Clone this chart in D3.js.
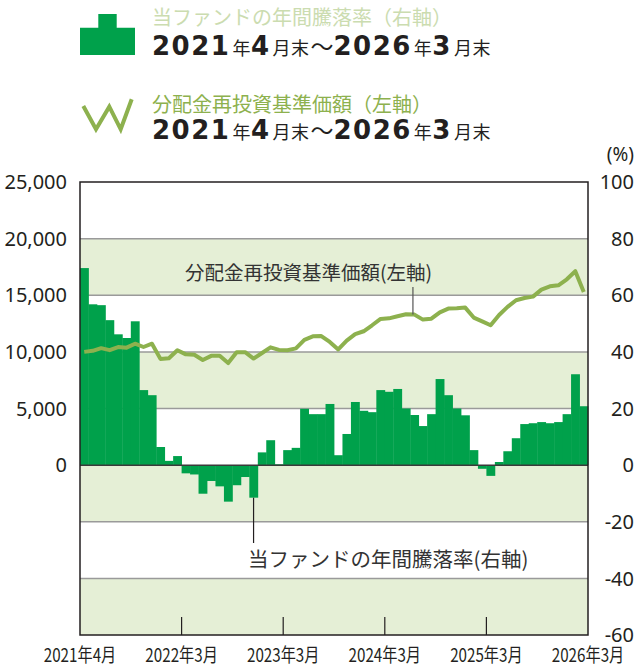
<!DOCTYPE html>
<html>
<head>
<meta charset="utf-8">
<script src="https://cdn.jsdelivr.net/npm/d3@7"></script>
<style>
  body { margin: 0; background: #fff; }
  svg { display: block; }
  text { font-family: "Noto Sans", "Noto Sans CJK JP", sans-serif; fill: #231f20; }
  .jp { font-family: "Noto Sans CJK JP", sans-serif; }
</style>
</head>
<body>
<div id="plot"></div>
<script>
// 年間騰落率 (%), monthly, 2021年4月末 .. 2026年3月末
const fundReturn = [
  69.6, 56.8, 56.5, 51.2, 46.2, 44.9, 50.8, 26.5, 24.7, 6.4, 1.5, 3.2,
  -2.9, -3.3, -10.1, -5.6, -7.5, -12.9, -7.1, -4.2, -11.5, 4.5, 8.8, 0.3,
  5.3, 6.1, 19.9, 18.0, 18.0, 21.6, 3.5, 11.0, 22.3, 19.2, 18.7, 26.5,
  25.9, 26.9, 20.0, 17.7, 13.8, 18.0, 30.4, 24.7, 20.0, 17.6, 5.3, -1.3,
  -3.8, 1.1, 4.9, 9.5, 14.5, 14.8, 15.2, 14.8, 15.2, 18.0, 32.1, 20.8
]
// 分配金再投資基準価額 (円)
const navReinvested = [
  10000, 10090, 10330, 10150, 10420, 10370, 10720, 10430, 10720, 9380, 9440, 10150,
  9780, 9740, 9280, 9650, 9650, 9010, 9970, 9970, 9410, 9900, 10400, 10170,
  10150, 10310, 11060, 11370, 11400, 10880, 10220, 10990, 11560, 11820, 12350, 12910,
  12960, 13150, 13320, 13290, 12850, 12930, 13490, 13820, 13850, 13910, 13030, 12700,
  12350, 13260, 13970, 14560, 14760, 14880, 15500, 15790, 15880, 16410, 17120, 15290
]
const months = d3.timeMonth.range(new Date(2021, 3, 1), new Date(2026, 3, 1))
const xTickLabels = ["2021年4月", "2022年3月", "2023年3月", "2024年3月", "2025年3月", "2026年3月"]
const xTickIndex = [0, 12, 24, 36, 48, 60]   // month boundaries
const rightTicks = [100, 80, 60, 40, 20, 0, -20, -40, -60]
const leftTicks = [0, 5000, 10000, 15000, 20000, 25000]

const W = 636, H = 667,
      plot = {left: 80, right: 588, top: 182, bottom: 635},
      barColor = "#00a14b",
      lineColor = "#8db14e",
      bandColor = "#e5efd6",
      dark = "#231f20"

const x = d3.scaleBand()
  .domain(months.map((d, i) => i))
  .range([plot.left, plot.right])
  .padding(0)
const bw = x.bandwidth()
const xEdge = i => plot.left + i * bw

const yR = d3.scaleLinear().domain([-60, 100]).range([plot.bottom, plot.top])
const yL = d3.scaleLinear().domain([-15000, 25000]).range([plot.bottom, plot.top])

const svg = d3.select("#plot").append("svg")
  .attr("width", W)
  .attr("height", H)

// ---- legend ----
const leg = svg.append("g")
leg.append("path")
  .attr("d", "M80,55V27.7H98.3V14H116.7V27.7H135V55Z")
  .attr("fill", barColor)
leg.append("polyline")
  .attr("points", "83.3,106 96,129.3 109.3,106.7 120.7,129.3 131.7,99.3")
  .attr("fill", "none")
  .attr("stroke", lineColor)
  .attr("stroke-width", 4)

leg.append("text").attr("class", "jp")
  .attr("x", 152).attr("y", 25)
  .style("font-size", "20px").style("fill", "#cbdcb0")
  .text("当ファンドの年間騰落率（右軸）")
leg.append("text").attr("class", "jp")
  .attr("x", 152).attr("y", 112)
  .style("font-size", "20px").style("fill", lineColor)
  .text("分配金再投資基準価額（左軸）")

const period = [["2021", 1], ["年", 0], ["4", 1], ["月末", 0], ["～", 2], ["2026", 1], ["年", 0], ["3", 1], ["月末", 0]]
const drawPeriod = (y) => {
  const t = leg.append("text").attr("x", 152).attr("y", y)
  period.forEach(([s, kind]) => {
    const ts = t.append("tspan").text(s)
    if (kind === 1) {
      ts.style("font-family", "'DejaVu Sans', sans-serif")
        .style("font-weight", "bold").style("font-size", "26px")
        .style("letter-spacing", "1.5px")
    } else if (kind === 0) {
      ts.style("font-family", "'Noto Sans CJK JP', sans-serif")
        .style("font-size", "18px").attr("dx", 2)
        .style("letter-spacing", "0.5px")
    } else {
      ts.style("font-family", "'Noto Sans CJK JP', sans-serif")
        .style("font-size", "23px").attr("dx", 1)
    }
  })
}
drawPeriod(55)
drawPeriod(139)

// ---- background bands ----
const bands = [80, 40, 0, -40]   // top of each shaded band
svg.append("g").selectAll("rect")
  .data(bands)
  .join("rect")
  .attr("x", plot.left)
  .attr("width", plot.right - plot.left)
  .attr("y", d => yR(d))
  .attr("height", d => yR(d - 20) - yR(d))
  .attr("fill", bandColor)

// grid lines
svg.append("g").selectAll("line")
  .data(rightTicks.filter(d => d !== 0 && d !== 100 && d !== -60))
  .join("line")
  .attr("x1", plot.left).attr("x2", plot.right)
  .attr("y1", d => yR(d)).attr("y2", d => yR(d))
  .attr("stroke", "#9a9a9a")
  .attr("stroke-width", 1.5)

// ---- bars ----
svg.append("g").selectAll("rect")
  .data(fundReturn)
  .join("rect")
  .attr("x", (d, i) => x(i))
  .attr("width", bw + 0.4)
  .attr("y", d => yR(Math.max(0, d)))
  .attr("height", d => Math.abs(yR(d) - yR(0)))
  .attr("fill", barColor)

// zero line
svg.append("line")
  .attr("x1", plot.left).attr("x2", plot.right)
  .attr("y1", yR(0)).attr("y2", yR(0))
  .attr("stroke", "#3a3a3a")
  .attr("stroke-width", 1.5)

// ---- line ----
svg.append("path")
  .datum(navReinvested)
  .attr("fill", "none")
  .attr("stroke", lineColor)
  .attr("stroke-width", 4)
  .attr("stroke-linejoin", "round")
  .attr("d", d3.line()
    .x((d, i) => x(i) + bw / 2)
    .y(d => yL(d)))

// frame
svg.append("rect")
  .attr("x", plot.left).attr("y", plot.top)
  .attr("width", plot.right - plot.left)
  .attr("height", plot.bottom - plot.top)
  .attr("fill", "none")
  .attr("stroke", dark)
  .attr("stroke-width", 1.5)

// bottom ticks (inside)
svg.append("g").selectAll("line")
  .data(xTickIndex.slice(1, -1))
  .join("line")
  .attr("x1", d => xEdge(d)).attr("x2", d => xEdge(d))
  .attr("y1", plot.bottom - 18).attr("y2", plot.bottom)
  .attr("stroke", dark)
  .attr("stroke-width", 1.2)

// ---- axes labels ----
svg.append("g").selectAll("text")
  .data(leftTicks)
  .join("text")
  .attr("x", 67)
  .attr("y", d => yL(d))
  .attr("dy", "0.36em")
  .attr("text-anchor", "end")
  .style("font-size", "20px")
  .text(d3.format(","))

svg.append("g").selectAll("text")
  .data(rightTicks)
  .join("text")
  .attr("x", 634)
  .attr("y", d => yR(d))
  .attr("dy", "0.36em")
  .attr("text-anchor", "end")
  .style("font-size", "20px")
  .text(d => d)

svg.append("text")
  .attr("x", 634).attr("y", 161)
  .attr("text-anchor", "end")
  .style("font-size", "19px")
  .text("(%)")

svg.append("g").selectAll("text")
  .data(xTickLabels)
  .join("text")
  .attr("class", "jp")
  .attr("text-anchor", "middle")
  .attr("transform", (d, i) => `translate(${xEdge(xTickIndex[i])},${662}) scale(0.8,1)`)
  .style("font-size", "19px")
  .text(d => d)

// ---- annotations ----
const navAt = 39, retAt = 20
svg.append("line")
  .attr("x1", x(navAt) + bw / 2 - 1.5).attr("x2", x(navAt) + bw / 2 - 1.5)
  .attr("y1", 287).attr("y2", yL(navReinvested[navAt]))
  .attr("stroke", "#555").attr("stroke-width", 1.2)
svg.append("text").attr("class", "jp")
  .attr("x", 185).attr("y", 280)
  .style("font-size", "19.5px").style("fill", "#333")
  .text("分配金再投資基準価額(左軸)")

svg.append("line")
  .attr("x1", x(retAt) + bw / 2).attr("x2", x(retAt) + bw / 2)
  .attr("y1", yR(fundReturn[retAt])).attr("y2", 543)
  .attr("stroke", dark).attr("stroke-width", 1.2)
svg.append("text").attr("class", "jp")
  .attr("x", 248).attr("y", 567)
  .style("font-size", "20.5px").style("fill", "#333")
  .text("当ファンドの年間騰落率(右軸)")
</script>
</body>
</html>
